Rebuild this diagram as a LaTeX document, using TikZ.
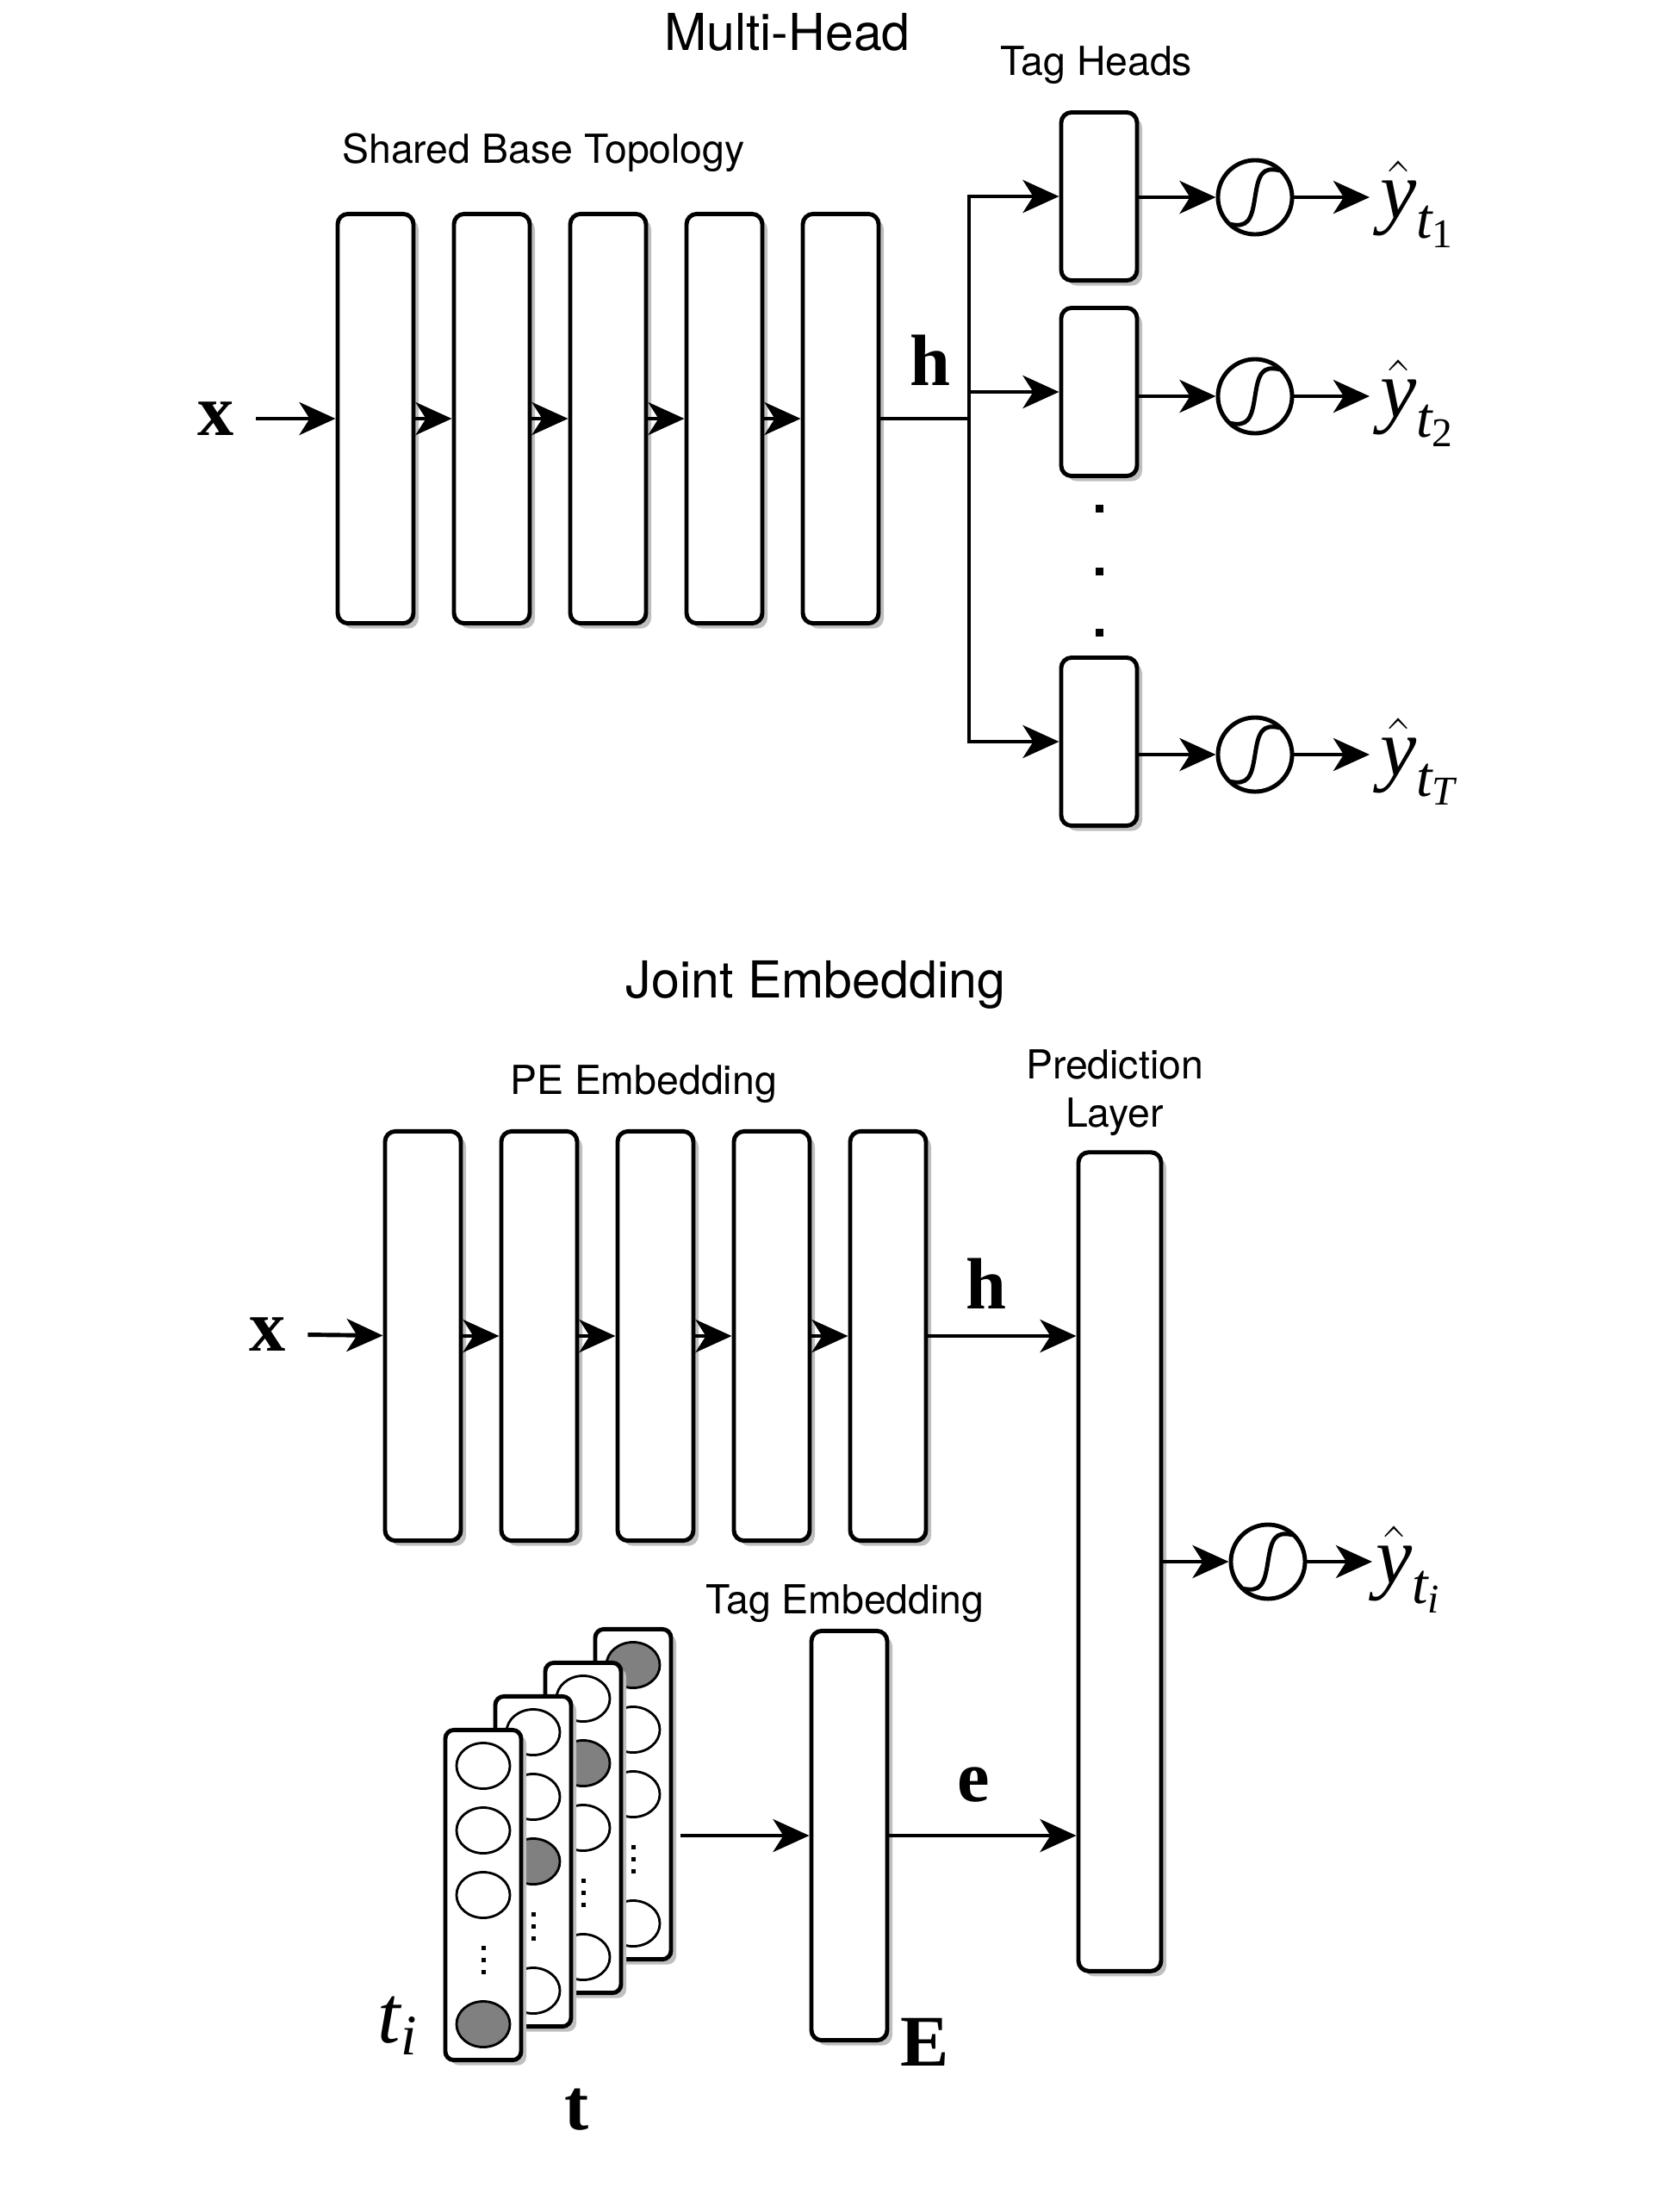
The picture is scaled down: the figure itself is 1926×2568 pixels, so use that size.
\documentclass[tikz,border=0pt]{standalone}
\usepackage{fontspec}
\usepackage{amsmath}
\setmainfont{TeX Gyre Heros}
\newfontfamily\tms{Liberation Serif}
\usetikzlibrary{arrows.meta,shadows,calc,shapes.geometric}

% bold vector letters and the sigmoid outputs
\newcommand{\bvec}[1]{{\fontsize{24}{28}\selectfont\tms\bfseries #1}}
\newcommand{\yout}[1]{{\fontsize{27}{30}\selectfont\tms$\hat{\text{\itshape y}}_{\text{\itshape t}_{#1}}$}}

\begin{document}
\begin{tikzpicture}[x=0.01cm,y=-0.01cm,
    thk/.style={line width=1.4pt},
    arr/.style={thk,-{Stealth[length=0.42cm,width=0.38cm,inset=0.12cm]}},
    shd/.style={drop shadow={shadow xshift=0.06cm,shadow yshift=-0.06cm,opacity=1,fill=black!25}},
    layer/.style={draw,thk,shd,fill=white,rounded corners=0.12cm,inner sep=0pt,
        minimum width=0.88cm,minimum height=4.75cm},
    head/.style={layer,minimum height=1.95cm},
    card/.style={layer,rounded corners=0.1cm,minimum width=0.88cm,minimum height=3.83cm},
    unit/.style={ellipse,draw,line width=0.8pt,minimum width=0.62cm,minimum height=0.53cm,inner sep=0pt},
    dotsq/.style={rectangle,fill,inner sep=0pt,minimum size=0.09cm},
    cdot/.style={rectangle,fill,inner sep=0pt,minimum size=0.05cm},
    sig/.style={circle,draw,thk,fill=white,minimum size=0.86cm,inner sep=0pt,
        path picture={\draw[thk,shift={(path picture bounding box.center)}]
            (-0.3cm,-0.31cm) .. controls (-0.08cm,-0.36cm) and (-0.04cm,-0.26cm) .. (0cm,0cm)
            .. controls (0.04cm,0.26cm) and (0.08cm,0.36cm) .. (0.29cm,0.31cm);}},
    ttl/.style={font=\fontsize{16.8}{20}\selectfont},
    lbl/.style={font=\fontsize{13.2}{16}\selectfont},
    mlbl/.style={inner sep=7pt}]

\useasboundingbox (0,0) rectangle (1926,2568);

%%% Multi-Head
\node[ttl] (mh) at (914,37) {Multi-Head};
\node[lbl] (sbt) at (631,177) {Shared Base Topology};
\node[lbl] (th) at (1273,76) {Tag Heads};

% shared layers
\foreach \i in {1,...,5}
    \node[layer] (a\i) at ({436+135*(\i-1)},486) {};
\node[mlbl] (xa) at (251,486) {\bvec{x}};
\draw[arr] (xa) -- (a1);
\foreach \i/\j in {1/2,2/3,3/4,4/5}
    \draw[arr] (a\i) -- (a\j);

\node[mlbl] (ha) at (1080,418) {\bvec{h}};
\coordinate (split) at (1125,486);
\draw[thk] (a5) -- (split);

% tag heads
\foreach \i/\y in {1/228,2/455,3/861}
    \node[head] (h\i) at (1276,\y) {};
\foreach \i in {1,2,3}
    \draw[arr] (split) |- (h\i.west);
\foreach \y in {590,663,734}
    \node[dotsq] at (1276,\y) {};

% sigmoids and outputs
\foreach \i/\y/\s in {1/229/\text{1},2/460/\text{2},3/876/\text{\itshape T}}{
    \node[sig] (s\i) at (1457,\y) {};
    \draw[arr] (h\i.east |- s\i) -- (s\i);
    \node[anchor=west,inner sep=1pt] (o\i) at (1598,{\y+8}) {\yout{\s}};
    \draw[arr,shorten >=0.08cm] (s\i) -- (o\i.west |- s\i);
}

%%% Joint Embedding
\node[ttl] (je) at (947,1143) {Joint Embedding};
\node[lbl] (pe) at (747,1259) {PE Embedding};
\node[lbl,align=center,font=\fontsize{13.2}{15.9}\selectfont] (pl) at (1294,1269) {Prediction\\Layer};
\node[lbl] (te) at (981,1862) {Tag Embedding};

\foreach \i in {1,...,5}
    \node[layer] (p\i) at ({491+135*(\i-1)},1551) {};
\node[mlbl] (xb) at (311,1549) {\bvec{x}};
\draw[arr] (xb) -- (p1);
\foreach \i/\j in {1/2,2/3,3/4,4/5}
    \draw[arr] (p\i) -- (p\j);

\node[layer,minimum width=0.96cm,minimum height=9.5cm] (pred) at (1300,1813) {};
\node[mlbl] (hb) at (1145,1490) {\bvec{h}};
\draw[arr] (p5) -- (pred.west |- p5);

\node[sig] (sb) at (1472,1813) {};
\draw[arr] (pred.east |- sb) -- (sb);
\node[anchor=west,inner sep=1pt] (ob) at (1593,1822) {\yout{\text{\itshape i}}};
\draw[arr] (sb) -- (ob.west |- sb);

% tag embedding
\node[layer] (emb) at (986,2131) {};
\node[mlbl] (eb) at (1074,2371) {\bvec{E}};
\node[mlbl] (el) at (1130,2072) {\bvec{e}};
\draw[arr] (emb.east) -- (pred.west |- emb.east);

% one-hot tag cards, back to front
\foreach \k/\g in {4/1,3/2,2/3,1/5}{
    \node[card] (c\k) at ({561+58*(\k-1)},{2200-39*(\k-1)}) {};
    \foreach \s in {1,2,3,5}{
        \ifnum\s=\g \def\col{gray}\else\def\col{white}\fi
        \node[unit,fill=\col] (u\k\s) at ($(c\k)+(0,{75*(\s-3)})$) {};
    }
    \foreach \d in {-14,0,14}
        \node[cdot] at ($(c\k)+(0,{75+\d})$) {};
}
\draw[arr,shorten <=0.09cm] (c4.east |- emb.west) -- (emb.west);

\node (ti) at (462,2352) {{\fontsize{27}{30}\selectfont\tms\itshape t$_{\text{\itshape i}}$}};
\node (tb) at (670,2449) {\bvec{t}};

\end{tikzpicture}
\end{document}
